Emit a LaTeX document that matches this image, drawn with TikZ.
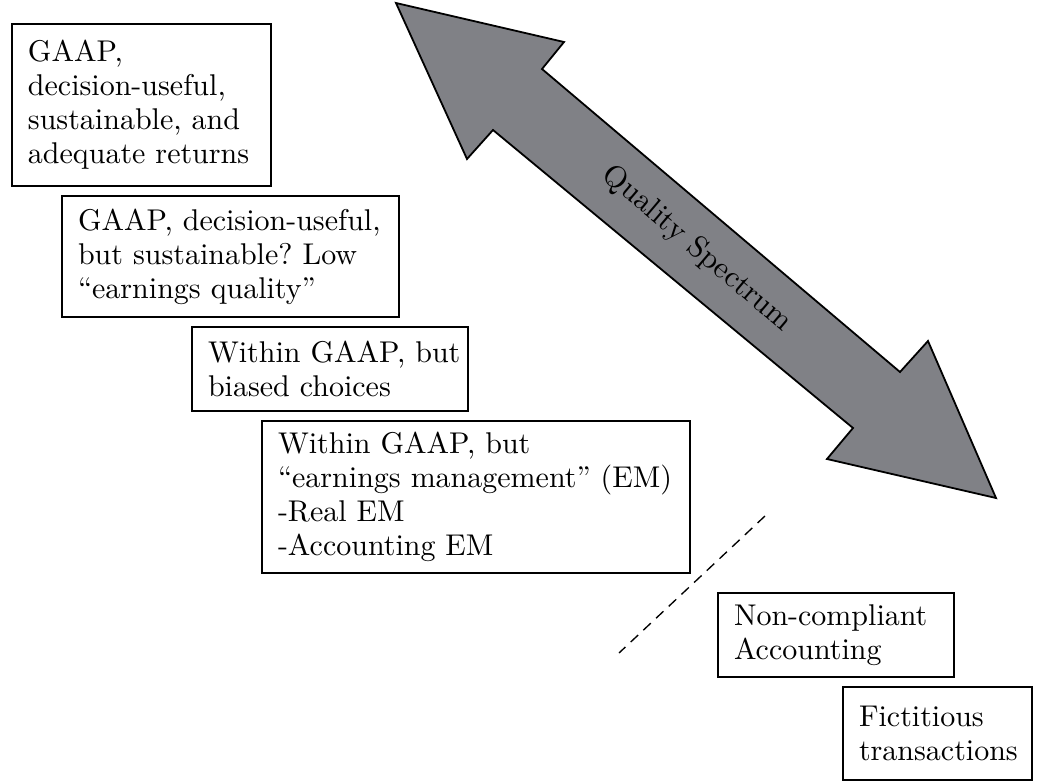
\documentclass[tikz,border=0pt]{standalone}
\usepackage{tikz}
\definecolor{arrowgray}{RGB}{128,129,134}
\frenchspacing
\begin{document}
\begin{tikzpicture}[x=0.33333pt,y=-0.33333pt,
  box/.style={draw, line width=0.6pt, inner xsep=5.333pt, inner ysep=0pt,
    outer sep=0pt, anchor=north west, align=left,
    font=\fontsize{10}{11.33}\selectfont},
  dashline/.style={line width=0.45pt, dash pattern=on 3.4pt off 2.4pt},
  bigarrow/.style={fill=arrowgray, draw=black, line width=0.6pt, line join=miter}
]
\useasboundingbox (0,0) rectangle (1040,782);

% double-headed arrow
\draw[bigarrow] (396,3) -- (564,42) -- (542,69) -- (900,372) -- (928,341)
  -- (996,498) -- (827,459) -- (853,428) -- (493,130) -- (467,159) -- cycle;
\node[rotate=-40.3, font=\fontsize{10.2}{11.33}\selectfont] (qs) at (697,249) {Quality Spectrum};

% boxes
\node[box, minimum width=86.33pt, minimum height=54pt, text width=75.67pt] (b1) at (12,24)
  {GAAP,\\decision-useful,\\sustainable,~and\\adequate~returns};
\node[box, minimum width=112.33pt, minimum height=40.33pt, text width=101.67pt] (b2) at (62,196)
  {GAAP,~decision-useful,\\but~sustainable?~Low\\“earnings~quality”};
\node[box, minimum width=92pt, minimum height=28pt, text width=81.33pt] (b3) at (192,327)
  {Within~GAAP,~but\\biased~choices};
\node[box, minimum width=142.67pt, minimum height=50.67pt, text width=132pt] (b4) at (262,421)
  {Within~GAAP,~but\\“earnings~management”~(EM)\\-Real~EM\\-Accounting~EM};
\node[box, minimum width=78.67pt, minimum height=28pt, text width=68pt] (b5) at (718,593)
  {Non-compliant\\Accounting};
\node[box, minimum width=63pt, minimum height=31pt, text width=52.33pt] (b6) at (843,687)
  {Fictitious\\transactions};

% dashed divider
\coordinate (d1) at (765,516);
\coordinate (d2) at (619,653);
\draw[dashline] (d1) -- (d2);
\end{tikzpicture}
\end{document}
